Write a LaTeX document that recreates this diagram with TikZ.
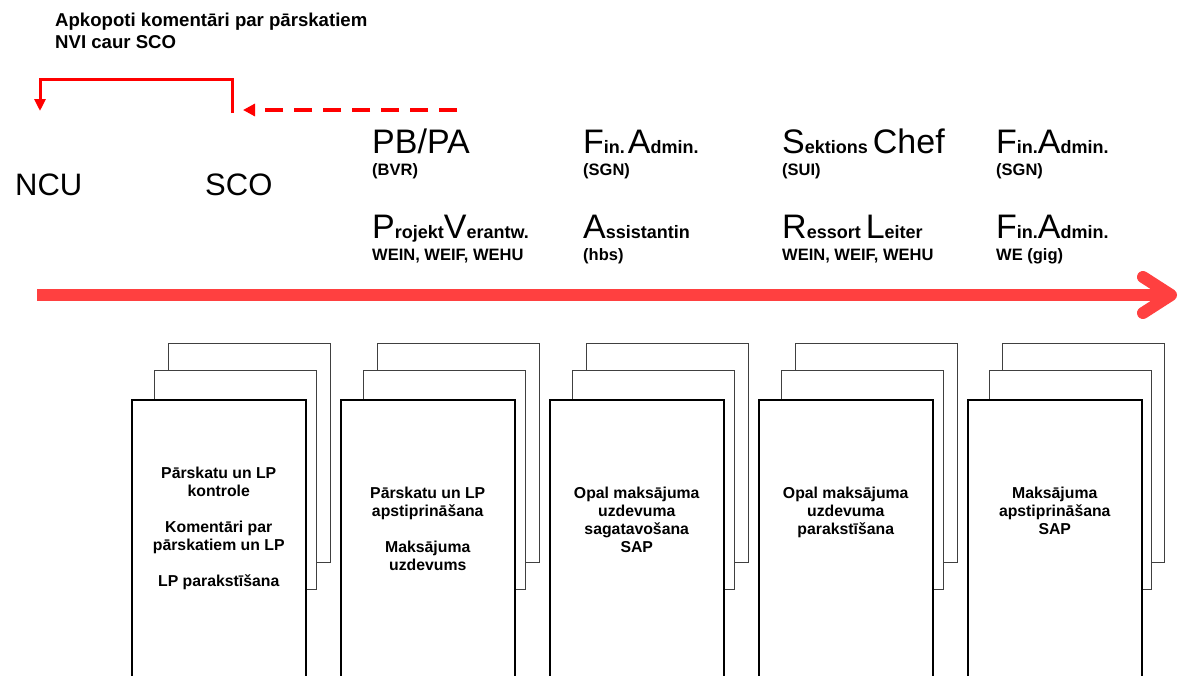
\documentclass[tikz,border=0pt]{standalone}
\usepackage{fontspec}
\setmainfont{Liberation Sans}
\usetikzlibrary{arrows.meta,positioning}

\definecolor{flowred}{RGB}{255,0,0}
\definecolor{linered}{RGB}{255,64,64}
\newcommand\capL[1]{{\fontsize{34}{36}\selectfont #1}}
\newcommand\lowL[1]{{\fontsize{18}{20}\selectfont\bfseries #1}}

\begin{document}
\begin{tikzpicture}
  [x=1pt,y=-1pt,
   role/.style={anchor=base west,inner sep=0pt,font=\fontsize{34}{36}\selectfont},
   who/.style={anchor=base west,inner sep=0pt,font=\fontsize{16.5}{18}\selectfont\bfseries},
   sheet/.style={draw=black!75,fill=white,line width=1.2pt,anchor=north west,minimum width=162pt,minimum height=219pt,inner sep=0pt},
   front/.style={draw=black,fill=white,line width=1.5pt,anchor=north west,minimum width=174pt,minimum height=300pt,inner sep=0pt},
   task/.style={anchor=north,align=center,inner sep=0pt,font=\fontsize{15.8}{18}\selectfont\bfseries}]
  \useasboundingbox (0,0) rectangle (1181,675);
  \clip (0,0) rectangle (1181,675);

  \node[anchor=north west,inner sep=0pt,align=left,font=\fontsize{18.6}{22}\selectfont\bfseries] (note) at (55,13) {Apkopoti komentāri par pārskatiem\\NVI caur SCO};

  \node[role,font=\fontsize{31}{34}\selectfont] (ncu) at (15,195) {NCU};
  \node[role,font=\fontsize{31}{34}\selectfont] (sco) at (205,195) {SCO};

  \node[role] (pbpa) at (372,153) {PB/PA};
  \node[who] (bvr) at (372,175) {(BVR)};
  \node[role] (projv) at (372,238) {\capL{P}\lowL{rojekt}\capL{V}\lowL{erantw.}};
  \node[who] (wein1) at (372,260) {WEIN, WEIF, WEHU};

  \node[role] (fin1) at (583,153) {\capL{F}\lowL{in.\,}\capL{A}\lowL{dmin.}};
  \node[who] (sgn1) at (583,175) {(SGN)};
  \node[role] (assist) at (583,238) {\capL{A}\lowL{ssistantin}};
  \node[who] (hbs) at (583,260) {(hbs)};

  \node[role] (sekt) at (782,153) {\capL{S}\lowL{ektions }\capL{Chef}};
  \node[who] (sui) at (782,175) {(SUI)};
  \node[role] (ress) at (782,238) {\capL{R}\lowL{essort }\capL{L}\lowL{eiter}};
  \node[who] (wein2) at (782,260) {WEIN, WEIF, WEHU};

  \node[role] (fin2) at (996,153) {\capL{F}\lowL{in.}\capL{A}\lowL{dmin.}};
  \node[who] (sgn2) at (996,175) {(SGN)};
  \node[role] (fin3) at (996,238) {\capL{F}\lowL{in.}\capL{A}\lowL{dmin.}};
  \node[who] (gig) at (996,260) {WE (gig)};

  % feedback arrows
  \coordinate (scotop) at (232,113);
  \coordinate (ncutop) at (40,111);
  \coordinate (dashstart) at (457,110);
  \coordinate (dashtip) at (243,110);
  \draw[flowred,line width=3pt,-{Triangle[length=12pt,width=11pt]}] (scotop) -- ++(0,-34) -| (ncutop);
  \draw[flowred,line width=4pt,dash pattern=on 18pt off 11pt,-{Triangle[length=12pt,width=12pt]}] (dashstart) -- (dashtip);

  % time line
  \coordinate (tstart) at (37,295);
  \coordinate (tend) at (1177,295);
  \draw[linered,line width=12pt,-{Straight Barb[length=28pt,width=36pt,round]}] (tstart) -- (tend);

  % document stacks
  \node[sheet] (b1) at (168,343) {};
  \node[sheet] (m1) at (154,370) {};
  \node[front] (f1) at (131,399) {};
  \node[task,below=68pt of f1.north] (t1) {Pārskatu un LP\\kontrole\\[18pt]Komentāri par\\pārskatiem un LP\\[18pt]LP parakstīšana};

  \node[sheet] (b2) at (377,343) {};
  \node[sheet] (m2) at (363,370) {};
  \node[front] (f2) at (340,399) {};
  \node[task,below=88pt of f2.north] (t2) {Pārskatu un LP\\apstiprināšana\\[18pt]Maksājuma\\uzdevums};

  \node[sheet] (b3) at (586,343) {};
  \node[sheet] (m3) at (572,370) {};
  \node[front] (f3) at (549,399) {};
  \node[task,below=88pt of f3.north] (t3) {Opal maksājuma\\uzdevuma\\sagatavošana\\SAP};

  \node[sheet] (b4) at (795,343) {};
  \node[sheet] (m4) at (781,370) {};
  \node[front] (f4) at (758,399) {};
  \node[task,below=88pt of f4.north] (t4) {Opal maksājuma\\uzdevuma\\parakstīšana};

  \node[sheet] (b5) at (1002,343) {};
  \node[sheet] (m5) at (989,370) {};
  \node[front] (f5) at (967,399) {};
  \node[task,below=88pt of f5.north] (t5) {Maksājuma\\apstiprināšana\\SAP};
\end{tikzpicture}
\end{document}
